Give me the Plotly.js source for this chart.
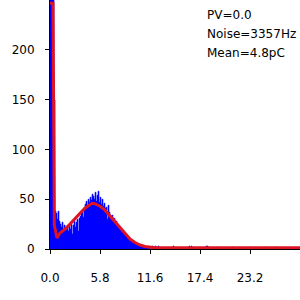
<!DOCTYPE html>
<html>
<head>
<meta charset="utf-8">
<script src="https://cdn.plot.ly/plotly-3.0.1.min.js"></script>
<style>html,body{margin:0;padding:0;background:#fff;}#chart{width:300px;height:300px;}</style>
</head>
<body>
<div id="chart"></div>
<script>
// Histogram: bin start and width (pC), counts per bin
var binStart = 0.0;
var binWidth = 0.116;
var counts = [
  400, 400, 350, 300, 150, 38, 36, 30, 38, 28,
  25, 22, 27, 20, 24, 21, 19, 22, 18, 23,
  20, 25, 15, 24, 28, 22, 27, 30, 18, 31,
  33, 36, 38, 32, 42, 45, 48, 44, 50, 47,
  52, 49, 55, 53, 50, 57, 48, 54, 58, 47,
  52, 45, 50, 43, 46, 41, 42, 30, 44, 37,
  34, 33, 34, 30, 31, 27, 28, 25, 24, 23,
  21, 20, 17, 18, 15, 15, 12, 13, 10, 11,
  9, 8, 8, 6, 6, 6, 4, 5, 3, 4,
  4, 3, 2, 2, 3, 1, 2, 1, 2, 1,
  0, 0, 3, 2, 0, 3, 0, 2, 3, 0,
  0, 0, 0, 0, 0, 1, 0, 0, 0, 0,
  0, 0, 0, 3, 0, 0, 0, 0, 0, 0,
  0, 0, 0, 0, 0, 0, 0, 0, 2, 3,
  0, 3, 0, 0, 0, 0, 0, 0, 0, 0,
  0, 0, 0, 0, 0, 2, 3, 3, 2, 0,
  0, 0, 0, 0, 0, 0, 0, 2, 0, 0,
  0, 0, 0, 0, 0, 0, 0, 0, 0, 0,
  0, 0, 2, 0, 0, 0, 0, 0, 0, 0,
  0, 0, 0, 0, 0, 0, 0, 0, 0, 0,
  2, 0, 0, 0, 0, 0, 0, 0, 0, 0,
  0, 0, 0, 0, 0, 2, 0, 0, 0, 0,
  0, 0, 0, 0, 0, 2, 0, 0, 0, 0
];
// Fit curve (pC, counts)
var fitX = [0.0, 0.35, 0.5, 0.81, 1.16, 1.74, 2.32, 2.9, 3.48, 4.06, 4.64, 4.87, 5.22, 5.8, 6.38, 6.96, 7.54, 8.12, 8.7, 9.28, 9.86, 10.44, 11.02, 11.6, 12.2, 13.0, 29.0];
var fitY = [247, 247, 24, 11, 16, 20, 25, 31, 36, 41, 45, 46, 45.5, 43, 39, 33, 27, 21, 15, 10, 6.5, 4, 2.5, 1.6, 1.2, 1.2, 1.2];
// Tick labels
var xTickVals = [0.0, 5.8, 11.6, 17.4, 23.2];
var xTickText = ["0.0", "5.8", "11.6", "17.4", "23.2"];
var yTickVals = [0, 50, 100, 150, 200];
var yTickText = ["0", "50", "100", "150", "200"];
// Info text
var infoLines = ["PV=0.0", "Noise=3357Hz", "Mean=4.8pC"];

var binX = counts.map(function(c, i){ return binStart + (i + 0.5) * binWidth; });

var font = {family: "DejaVu Sans, Verdana, sans-serif", size: 12, color: "#000"};

var data = [
  {type: "bar", x: binX, y: counts, width: binWidth,
   marker: {color: "#0000ff", line: {width: 0.6, color: "#0000ff"}}, hoverinfo: "none"},
  {type: "scatter", mode: "lines", x: fitX, y: fitY,
   line: {color: "rgb(222,20,36)", width: 3}, hoverinfo: "none"}
];

var annotations = infoLines.map(function(t, i){
  return {xref: "paper", yref: "paper", x: 0.62, y: 1 - (15 + i * 19) / 249,
          xanchor: "left", yanchor: "middle", text: t, showarrow: false, font: font};
});

var layout = {
  width: 300, height: 300,
  margin: {l: 50, r: 0, t: 0, b: 51, pad: 0},
  paper_bgcolor: "#fff", plot_bgcolor: "#fff",
  showlegend: false, bargap: 0,
  font: font,
  xaxis: {range: [0, 29.0], tickvals: xTickVals, ticktext: xTickText,
          showgrid: false, zeroline: false, showline: true, linecolor: "#000", linewidth: 1,
          ticks: "outside", ticklen: 4, tickcolor: "#000", ticklabelstandoff: 14,
          tickfont: font, fixedrange: true},
  yaxis: {range: [0, 250.2], tickvals: yTickVals, ticktext: yTickText,
          showgrid: false, zeroline: false, showline: true, linecolor: "#000", linewidth: 1,
          ticks: "outside", ticklen: 4, tickcolor: "#000", ticklabelstandoff: 8,
          tickfont: font, fixedrange: true},
  annotations: annotations
};

Plotly.newPlot("chart", data, layout, {staticPlot: true, displayModeBar: false});
</script>
</body>
</html>
